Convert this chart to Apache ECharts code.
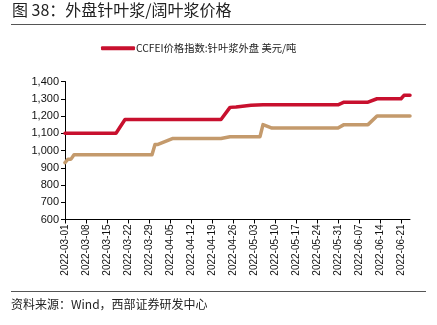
<!DOCTYPE html>
<html>
<head>
<meta charset="utf-8">
<script src="https://cdn.jsdelivr.net/npm/echarts@6/dist/echarts.min.js"></script>
<style>
  html, body { margin: 0; padding: 0; background: #fff; }
  #chart { width: 437px; height: 325px; }
</style>
</head>
<body>
<div id="chart"></div>
<script>
// Softwood pulp (CCFEI) price, USD/ton: dates where a value was read and the value on that date
const softwoodDates = ['2022-03-01','2022-03-18','2022-03-21','2022-04-22','2022-04-25','2022-04-27','2022-05-02','2022-05-06','2022-05-31','2022-06-02','2022-06-10','2022-06-13','2022-06-21','2022-06-22','2022-06-24'];
const softwoodValues = [1100, 1100, 1180, 1180, 1250, 1252, 1262, 1265, 1265, 1280, 1280, 1300, 1300, 1320, 1320];

// Hardwood pulp price, USD/ton
const hardwoodDates = ['2022-03-01','2022-03-02','2022-03-03','2022-03-04','2022-03-30','2022-03-31','2022-04-01','2022-04-06','2022-04-22','2022-04-25','2022-05-05','2022-05-06','2022-05-09','2022-05-31','2022-06-02','2022-06-10','2022-06-13','2022-06-24'];
const hardwoodValues = [930, 950, 950, 975, 975, 1035, 1035, 1070, 1070, 1080, 1080, 1150, 1130, 1130, 1150, 1150, 1200, 1200];

const softwoodName = 'CCFEI价格指数:针叶浆外盘 美元/吨';
const hardwoodName = '阔叶浆外盘 美元/吨';

// Calendar-day category axis from first to last date
const startDate = '2022-03-01';
const endDate = '2022-06-24';
function buildDays(a, b) {
  const out = [];
  const d = new Date(a + 'T00:00:00Z');
  const e = new Date(b + 'T00:00:00Z');
  while (d <= e) {
    out.push(d.toISOString().slice(0, 10));
    d.setUTCDate(d.getUTCDate() + 1);
  }
  return out;
}
const days = buildDays(startDate, endDate);

function alignToDays(dates, values) {
  const arr = days.map(() => null);
  dates.forEach((dt, i) => { arr[days.indexOf(dt)] = values[i]; });
  return arr;
}

const yMin = 600, yMax = 1400, yStep = 100;
const labelEvery = 7;

const chart = echarts.init(document.getElementById('chart'), null, { renderer: 'canvas' });
const cjk = '"Noto Sans CJK SC", "Noto Sans", sans-serif';
const latin = '"Liberation Sans", Arial, sans-serif';

chart.setOption({
  animation: false,
  backgroundColor: '#fff',
  graphic: [
    { type: 'text', left: 12, top: 2, style: { text: '图 38：外盘针叶浆/阔叶浆价格', font: '16px ' + cjk, fill: '#222' } },
    { type: 'line', shape: { x1: 11, y1: 24.5, x2: 426, y2: 24.5 }, style: { stroke: '#555', lineWidth: 1 } },
    { type: 'line', shape: { x1: 11, y1: 291.5, x2: 426, y2: 291.5 }, style: { stroke: '#555', lineWidth: 1 } },
    { type: 'text', left: 11, top: 298, style: { text: '资料来源：Wind，西部证券研发中心', font: '12px ' + cjk, fill: '#222' } }
  ],
  legend: {
    data: [softwoodName],
    left: 96,
    top: 38,
    itemWidth: 34,
    itemHeight: 4,
    itemGap: 10,
    icon: 'roundRect',
    textStyle: { fontFamily: cjk, fontSize: 10.3, color: '#222', padding: [0, 0, 0, -4] }
  },
  grid: { left: 65, right: 27, top: 81.5, bottom: 105.5, containLabel: false },
  xAxis: {
    type: 'category',
    data: days,
    boundaryGap: false,
    axisLine: { lineStyle: { color: '#000', width: 1 } },
    axisTick: { interval: (i) => i % labelEvery === 0, length: 4, lineStyle: { color: '#000' } },
    axisLabel: {
      interval: (i) => i % labelEvery === 0,
      rotate: 90,
      fontFamily: latin,
      fontSize: 10,
      color: '#111',
      margin: 5
    },
    splitLine: { show: false }
  },
  yAxis: {
    type: 'value',
    min: yMin,
    max: yMax,
    interval: yStep,
    axisLine: { show: true, lineStyle: { color: '#000', width: 1 } },
    axisTick: { show: true, length: 4, lineStyle: { color: '#000' } },
    axisLabel: {
      fontFamily: latin,
      fontSize: 11,
      color: '#111',
      margin: 6,
      formatter: (v) => v.toLocaleString('en-US')
    },
    splitLine: { show: false }
  },
  series: [
    {
      name: hardwoodName,
      type: 'line',
      data: alignToDays(hardwoodDates, hardwoodValues),
      connectNulls: true,
      showSymbol: false,
      symbol: 'none',
      lineStyle: { color: '#C49A6C', width: 3.5, cap: 'round', join: 'round' },
      itemStyle: { color: '#C49A6C' }
    },
    {
      name: softwoodName,
      type: 'line',
      data: alignToDays(softwoodDates, softwoodValues),
      connectNulls: true,
      showSymbol: false,
      symbol: 'none',
      lineStyle: { color: '#C8102E', width: 3.5, cap: 'round', join: 'round' },
      itemStyle: { color: '#C8102E' }
    }
  ]
});
</script>
</body>
</html>
